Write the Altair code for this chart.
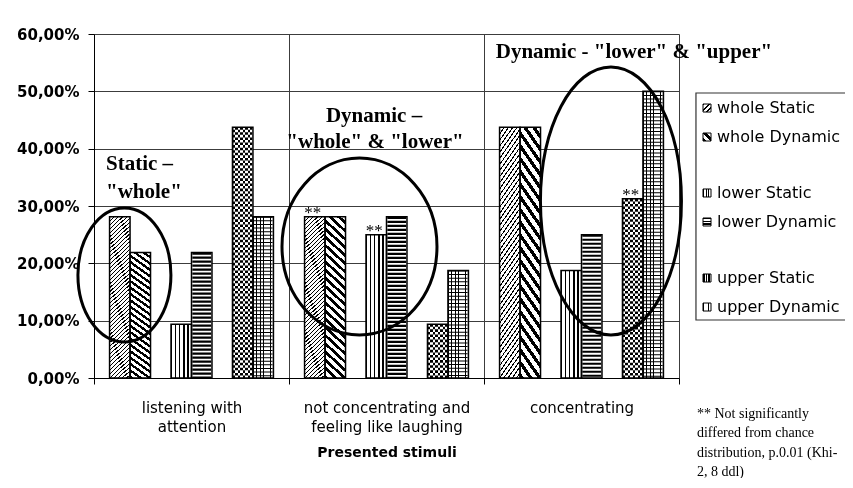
import json
import altair as alt
import pandas as pd

# ---------------- data ----------------
categories = ["listening with attention",
              "not concentrating and feeling like laughing",
              "concentrating"]
category_label_lines = [["listening with", "attention"],
                        ["not concentrating and", "feeling like laughing"],
                        ["concentrating"]]
series_names = ["whole Static", "whole Dynamic", "lower Static",
                "lower Dynamic", "upper Static", "upper Dynamic"]
whole_static = [28.125, 28.125, 43.75]
whole_dynamic = [21.875, 28.125, 43.75]
lower_static = [9.375, 25.0, 18.75]
lower_dynamic = [21.875, 28.125, 25.0]
upper_static = [43.75, 9.375, 31.25]
upper_dynamic = [28.125, 18.75, 50.0]
y_ticks = [0, 10, 20, 30, 40, 50, 60]
x_title = "Presented stimuli"

sig_categories = ["not concentrating and feeling like laughing",
                  "not concentrating and feeling like laughing",
                  "concentrating"]
sig_series = ["whole Static", "lower Static", "upper Static"]
sig_text = "**"

# annotations (in data units: x = category units 0..3, y = percent)
note_left_text = ["Static –", "\"whole\""]
note_left_u = [0.0615, 0.0615]
note_left_v = [36.3, 31.4]
note_center_text = ["Dynamic –", "\"whole\" & \"lower\"",
                    "Dynamic - \"lower\" & \"upper\""]
note_center_u = [1.436, 1.441, 2.769]
note_center_v = [44.65, 40.12, 55.8]
ellipse_u = [0.156, 1.3615, 2.651]
ellipse_v = [17.97, 22.94, 30.87]
footnote_lines = ["** Not significantly", "differed from chance",
                  "distribution, p.0.01 (Khi-", "2, 8 ddl)"]
footnote_u = [3.092]
footnote_v = [-6.98]
legend_v = [47.09, 42.03, 32.27, 27.21, 17.44, 12.38]
legend_icon_u = 3.1436
legend_text_u = 3.195
legend_box = {"u": [3.087], "u2": [3.95], "v": [49.71], "v2": [10.12]}

# ---------------- tables ----------------
values = [whole_static, whole_dynamic, lower_static, lower_dynamic,
          upper_static, upper_dynamic]
rows = []
for s, vals in zip(series_names, values):
    for c, v in zip(categories, vals):
        rows.append({"category": c, "series": s, "value": v})
bars = pd.DataFrame(rows)
sig_df = pd.DataFrame({"category": sig_categories, "series": sig_series})
sig_df = sig_df.merge(bars, on=["category", "series"])

slot_order = ["whole Static", "whole Dynamic", "_gap1", "lower Static",
              "lower Dynamic", "_gap2", "upper Static", "upper Dynamic"]

SANS = "DejaVu Sans"
SERIF = "Liberation Serif"
GRID = "#3c3c3c"

X_SCALE = alt.Scale(domain=categories, paddingInner=0, paddingOuter=0)
OFF_SCALE = alt.Scale(domain=slot_order, paddingInner=0, paddingOuter=0.76)
Y_SCALE = alt.Scale(domain=[0, 60], nice=False, zero=False)
U_SCALE = alt.Scale(domain=[0, 3], nice=False, zero=False)

label_expr = "".join(
    f"datum.label == {json.dumps(c)} ? {json.dumps(l)} : "
    for c, l in zip(categories, category_label_lines)) + "datum.label"

x_axis = alt.Axis(title=x_title, labelExpr=label_expr, labelAngle=0,
                  tickBand="extent", grid=True, gridColor=GRID, gridWidth=1,
                  tickSize=6, tickColor="black", domainColor="black",
                  labelFont=SANS, labelFontSize=15, labelColor="black",
                  labelPadding=16, labelBaseline="top", labelLineHeight=19,
                  labelLimit=0, titleFont=SANS, titleFontSize=14,
                  titleFontWeight="bold", titleColor="black", titleY=74,
                  titleBaseline="middle")
y_axis = alt.Axis(values=y_ticks,
                  labelExpr="replace(format(datum.value, '.2f'), '.', ',') + '%'",
                  grid=True, gridColor=GRID, gridWidth=1, tickSize=6,
                  tickColor="black", domainColor="black", labelFont=SANS,
                  labelFontSize=15, labelFontWeight="bold", labelColor="black",
                  labelPadding=9, title=None)


def X(axis=None):
    return alt.X("category:N", scale=X_SCALE, axis=axis)


def XO():
    return alt.XOffset("series:N", scale=OFF_SCALE)


def Y(axis=None):
    return alt.Y("value:Q", scale=Y_SCALE, axis=axis, stack=None)


U = alt.X("u:Q", scale=U_SCALE, axis=None)
V = alt.Y("v:Q", scale=Y_SCALE, axis=None)


def stops(n, frac, dark="black", light="white"):
    out = []
    for k in range(n):
        a, b, c = k / n, (k + frac) / n, (k + 1) / n
        out += [alt.GradientStop(offset=round(a, 5), color=dark),
                alt.GradientStop(offset=round(b, 5), color=dark),
                alt.GradientStop(offset=round(b, 5), color=light),
                alt.GradientStop(offset=round(c, 5), color=light)]
    return out


def grad(x1, y1, x2, y2, n, frac):
    return alt.LinearGradient(gradient="linear", stops=stops(n, frac),
                              x1=x1, y1=y1, x2=x2, y2=y2)


r = 8.5
a = (1 + r) / (1 + r * r)
fill_ws = grad(0, 0, a, a * r, 46, 0.3)           # fine "/"
fill_wd = grad(0, 1, a, 1 - a * r, 22, 0.45)      # bold "\"
fill_ls = grad(0, 0, 1, 0, 5, 0.3)                # vertical lines
fill_us = grad(0, 0, 1, 0, 4, 0.5)                # checker base
fill_ud = grad(0, 0, 1, 0, 6, 0.22)               # grid base


def bar_fill(series, fill, axes=False):
    return alt.Chart(bars).transform_filter(
        alt.datum.series == series).mark_bar(fill=fill, strokeWidth=0).encode(
        x=X(x_axis if axes else None), xOffset=XO(),
        y=Y(y_axis if axes else None))


def bar_rule(series, **kw):
    return alt.Chart(bars).transform_filter(
        alt.datum.series == series).mark_rule(strokeWidth=18.8, strokeCap="butt", **kw).encode(
        x=X(), xOffset=XO(), y=Y(), y2=alt.datum(0))


layers = [
    bar_fill("whole Static", fill_ws, axes=True),
    bar_fill("whole Dynamic", fill_wd),
    bar_fill("lower Static", fill_ls),
    bar_fill("lower Dynamic", "white"),
    bar_rule("lower Dynamic", color="black", strokeDash=[2.2, 1.8]),
    bar_fill("upper Static", fill_us),
    bar_rule("upper Static", color="white", strokeDash=[2.56, 2.56], blend="difference"),
    bar_fill("upper Dynamic", fill_ud),
    bar_rule("upper Dynamic", color="black", strokeDash=[1.0, 2.6]),
    alt.Chart(bars).mark_bar(fill="transparent", stroke="black", strokeWidth=1.5).encode(
        x=X(), xOffset=XO(), y=Y()),
    alt.Chart(sig_df).mark_text(text=sig_text, font=SERIF, fontSize=17,
                                baseline="alphabetic", dx=-2, dy=1, color="black").encode(
        x=X(), xOffset=XO(), y=Y()),
]

# annotation texts
left_df = pd.DataFrame({"u": note_left_u, "v": note_left_v, "t": note_left_text})
center_df = pd.DataFrame({"u": note_center_u, "v": note_center_v, "t": note_center_text})
layers.append(alt.Chart(left_df).mark_text(align="left", baseline="alphabetic", font=SERIF,
                                           fontSize=21, fontWeight="bold", color="black").encode(
    x=U, y=V, text="t:N"))
layers.append(alt.Chart(center_df).mark_text(align="center", baseline="alphabetic", font=SERIF,
                                             fontSize=21, fontWeight="bold", color="black").encode(
    x=U, y=V, text="t:N"))

# ellipses
ellipse_w = [93, 155, 141]
ellipse_h = [134, 177, 268]
k = 0.5523
for u, v, w, h in zip(ellipse_u, ellipse_v, ellipse_w, ellipse_h):
    rx = w / h
    path = (f"M0,-1 C{k*rx:.4f},-1 {rx:.4f},{-k} {rx:.4f},0 "
            f"C{rx:.4f},{k} {k*rx:.4f},1 0,1 "
            f"C{-k*rx:.4f},1 {-rx:.4f},{k} {-rx:.4f},0 "
            f"C{-rx:.4f},{-k} {-k*rx:.4f},-1 0,-1 Z")
    layers.append(alt.Chart(pd.DataFrame({"u": [u], "v": [v]})).mark_point(
        shape=path, size=h * h, filled=False, color="black", strokeWidth=3,
        opacity=1).encode(x=U, y=V))

# legend
layers.append(alt.Chart(pd.DataFrame(legend_box)).mark_rect(
    fill="white", stroke="#333333", strokeWidth=1.2).encode(
    x=U, x2="u2:Q", y=V, y2="v2:Q"))
icon_fills = [grad(0, 0, 1, 1, 3, 0.35), grad(0, 1, 1, 0, 2, 0.5),
              grad(0, 0, 1, 0, 3, 0.35), grad(0, 0, 0, 1, 3, 0.5),
              grad(0, 0, 1, 0, 3, 0.6), grad(0, 0, 1, 0, 3, 0.3)]
for s, lv, f in zip(series_names, legend_v, icon_fills):
    layers.append(alt.Chart(pd.DataFrame({"u": [legend_icon_u], "v": [lv]})).mark_square(
        size=64, fill=f, stroke="black", strokeWidth=1, opacity=1).encode(x=U, y=V))
layers.append(alt.Chart(pd.DataFrame({"u": [legend_text_u] * 6, "v": legend_v,
                                      "t": series_names})).mark_text(
    align="left", baseline="middle", font=SANS, fontSize=16, color="black").encode(
    x=U, y=V, text="t:N"))

# footnote
layers.append(alt.Chart(pd.DataFrame({"u": footnote_u, "v": footnote_v})).mark_text(
    text=footnote_lines, align="left", baseline="alphabetic", font=SERIF, fontSize=14,
    lineHeight=19.3, color="black").encode(x=U, y=V))

chart = alt.layer(*layers).resolve_scale(x="independent", y="independent").properties(
    width=585, height=344,
    padding={"left": 86, "top": 26, "right": 166, "bottom": 100},
    autosize=alt.AutoSizeParams(type="none"),
    background="white",
).configure_view(stroke=None)

chart.save("out.html", embed_options={"renderer": "svg", "actions": False})
